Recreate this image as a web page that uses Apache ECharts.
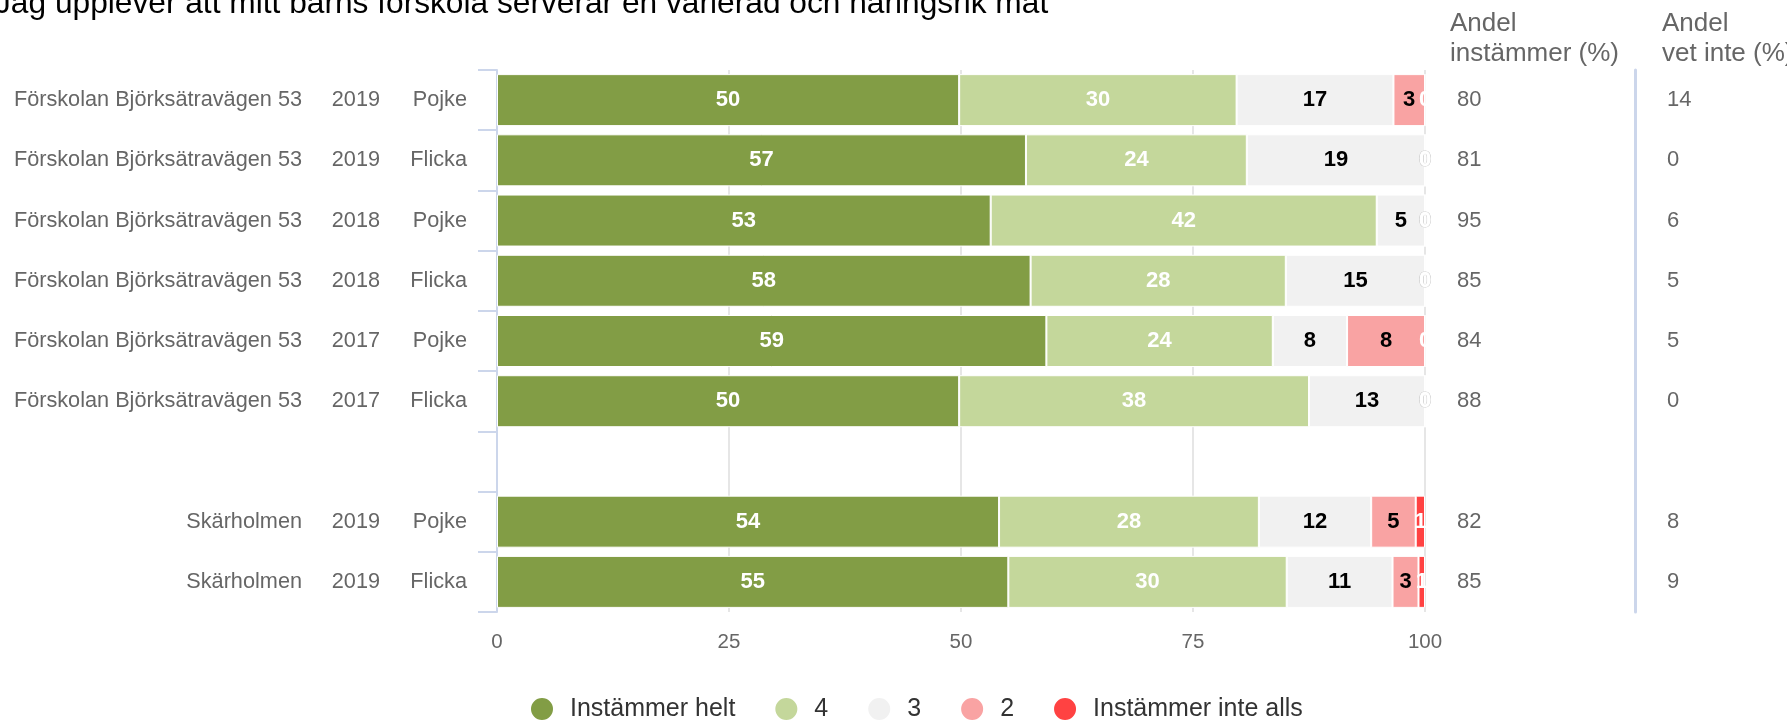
<!DOCTYPE html>
<html>
<head>
<meta charset="utf-8">
<script src="https://cdn.jsdelivr.net/npm/echarts@6/dist/echarts.min.js"></script>
<style>
html,body{margin:0;padding:0;background:#fff;}
#chart{width:1787px;height:720px;}
</style>
</head>
<body>
<div id="chart"></div>
<script>
// ---- data ----
const titleText = 'Jag upplever att mitt barns förskola serverar en varierad och näringsrik mat';
const schools = ['Förskolan Björksätravägen 53','Förskolan Björksätravägen 53','Förskolan Björksätravägen 53','Förskolan Björksätravägen 53','Förskolan Björksätravägen 53','Förskolan Björksätravägen 53','','Skärholmen','Skärholmen'];
const years = ['2019','2019','2018','2018','2017','2017','','2019','2019'];
const genders = ['Pojke','Flicka','Pojke','Flicka','Pojke','Flicka','','Pojke','Flicka'];
const seriesNames = ['Instämmer helt','4','3','2','Instämmer inte alls'];
const helt  = [49.8, 57.0, 53.2, 57.5, 59.2, 49.8, null, 54.1, 55.1];
const fyra  = [29.9, 23.8, 41.6, 27.5, 24.4, 37.7, null, 28.0, 30.0];
const tre   = [16.9, 19.2,  5.2, 15.0,  8.0, 12.5, null, 12.1, 11.4];
const tva   = [ 3.4,  0,    0,    0,    8.4,  0,   null,  4.8,  2.8];
const inte  = [ 0,    0,    0,    0,    0,    0,   null,  1.0,  0.7];
const andelInstammer = ['80','81','95','85','84','88','','82','85'];
const andelVetInte   = ['14','0','6','5','5','0','','8','9'];
const xTicks = [0, 25, 50, 75, 100];
const headerInst = 'Andel\ninstämmer (%)';
const headerVet = 'Andel\nvet inte (%)';

// ---- styles ----
const FONT = '"Liberation Sans", Arial, sans-serif';
const colors = ['#829d45', '#c4d79b', '#f1f1f1', '#f9a3a3', '#ff4242'];
const labelColors = ['#ffffff', '#ffffff', '#000000', '#000000', '#ffffff'];
const catIdx = schools.map((_, i) => String(i));
const CAT_FS = 21.7;

function buildData(arr, si) {
  return arr.map(v => {
    if (v === 0) {
      return {
        value: 0,
        label: si === 3
          ? { color: '#ffffff', textBorderColor: '#c8c8c8', textBorderWidth: 1.2 }
          : { color: '#ffffff', textBorderWidth: 0 }
      };
    }
    return v === null ? '-' : v;
  });
}

const allSeries = [helt, fyra, tre, tva, inte].map((arr, si) => ({
  name: seriesNames[si],
  type: 'bar',
  stack: 'total',
  yAxisIndex: 0,
  barWidth: 52,
  data: buildData(arr, si),
  itemStyle: { color: colors[si], borderColor: '#ffffff', borderWidth: 1 },
  label: {
    show: true,
    position: 'inside',
    fontFamily: FONT,
    fontSize: 22,
    fontWeight: 'bold',
    color: labelColors[si],
    formatter: p => (p.value === '-' || p.value == null) ? '' : String(Math.round(p.value))
  },
  emphasis: { disabled: true },
  animation: false
}));

function catAxis(opts) {
  return Object.assign({
    type: 'category',
    inverse: true,
    data: catIdx,
    gridIndex: 0,
    axisLine: { show: false },
    axisTick: { show: false },
    splitLine: { show: false },
    axisLabel: { fontFamily: FONT, fontSize: CAT_FS, color: '#666666' }
  }, opts);
}

const option = {
  animation: false,
  color: colors,
  title: [
    { text: titleText, left: -5, top: -12, padding: 0,
      textStyle: { fontFamily: FONT, fontSize: 31.7, fontWeight: 'normal', color: '#000000', lineHeight: 32 } },
    { text: headerInst, left: 1450, top: 9, padding: 0,
      textStyle: { fontFamily: FONT, fontSize: 26, fontWeight: 'normal', color: '#666666', lineHeight: 30 } },
    { text: headerVet, left: 1662, top: 9, padding: 0,
      textStyle: { fontFamily: FONT, fontSize: 26, fontWeight: 'normal', color: '#666666', lineHeight: 30 } }
  ],
  legend: {
    left: 529,
    top: 696,
    padding: 0,
    icon: 'circle',
    itemWidth: 24,
    itemHeight: 24,
    itemGap: 38,
    data: seriesNames,
    textStyle: { fontFamily: FONT, fontSize: 25, color: '#333333', padding: [0, 0, 0, 11] }
  },
  grid: { left: 497, right: 362, top: 70, height: 542, containLabel: false },
  xAxis: {
    type: 'value',
    min: 0, max: 100, interval: 25,
    axisLine: { show: false },
    axisTick: { show: false },
    splitLine: { show: true, lineStyle: { color: '#e6e6e6', width: 2 } },
    axisLabel: { fontFamily: FONT, fontSize: 20.5, color: '#666666', margin: 20,
      formatter: v => xTicks.includes(v) ? String(v) : '' }
  },
  yAxis: [
    catAxis({
      position: 'left',
      axisLine: { show: true, lineStyle: { color: '#ccd6eb', width: 2 } },
      axisTick: { show: true, length: 19, lineStyle: { color: '#ccd6eb', width: 2 } },
      axisLabel: { fontFamily: FONT, fontSize: CAT_FS, color: '#666666', margin: 30,
        formatter: (v, i) => genders[i] }
    }),
    catAxis({
      position: 'left',
      axisLabel: { fontFamily: FONT, fontSize: CAT_FS, color: '#666666', margin: 117,
        formatter: (v, i) => years[i] }
    }),
    catAxis({
      position: 'left',
      axisLabel: { fontFamily: FONT, fontSize: CAT_FS, color: '#666666', margin: 195,
        formatter: (v, i) => schools[i] }
    }),
    catAxis({
      position: 'right',
      axisLabel: { fontFamily: FONT, fontSize: 22, color: '#666666', margin: 32,
        formatter: (v, i) => andelInstammer[i] }
    }),
    catAxis({
      position: 'right',
      offset: 210,
      axisLine: { show: true, lineStyle: { color: '#ccd6eb', width: 3 } },
      axisLabel: { fontFamily: FONT, fontSize: 22, color: '#666666', margin: 32,
        formatter: (v, i) => andelVetInte[i] }
    })
  ],
  series: allSeries
};

const chart = echarts.init(document.getElementById('chart'), null, { renderer: 'canvas' });
chart.setOption(option);
</script>
</body>
</html>
